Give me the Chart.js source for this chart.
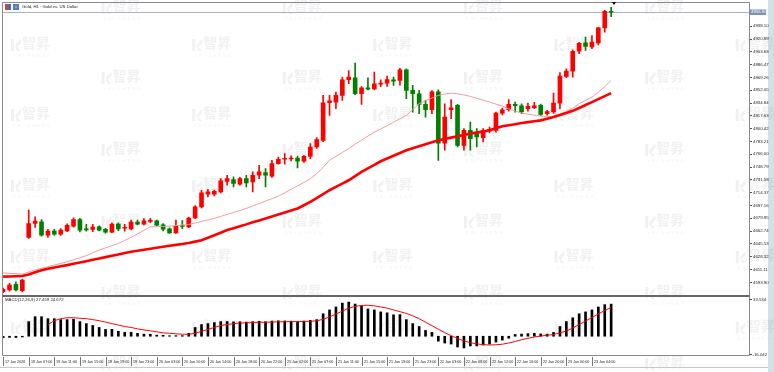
<!DOCTYPE html>
<html><head><meta charset="utf-8">
<script src="https://cdn.jsdelivr.net/npm/chart.js@4.4.1/dist/chart.umd.min.js"></script>
<style>
html,body{margin:0;padding:0;background:#fff;width:774px;height:372px;overflow:hidden}
#main{position:absolute;left:0;top:0}
#macd{position:absolute;left:0;top:296px}
</style></head><body>
<canvas id="main" width="774" height="372"></canvas>
<canvas id="macd" width="774" height="76"></canvas>
<script>
// ---------- DATA ----------
const chartTitle = "Gold, H1 : Gold vs. US Dollar";
const macdTitle = "MACD(12,26,9) 27.459 24.672";
const labelStep = 4;
const timeLabels = ["17 Jan 2026","19 Jan 07:00","19 Jan 11:00","19 Jan 15:00","19 Jan 19:00","19 Jan 23:00",
 "20 Jan 03:00","20 Jan 10:00","20 Jan 14:00","20 Jan 18:00","20 Jan 22:00","21 Jan 02:00","21 Jan 07:00",
 "21 Jan 11:00","21 Jan 15:00","21 Jan 19:00","21 Jan 23:00","22 Jan 03:00","22 Jan 08:00","22 Jan 12:00",
 "22 Jan 16:00","22 Jan 20:00","23 Jan 00:00","23 Jan 04:00"];
const priceTicks = [4593.90,4611.11,4628.32,4645.53,4662.74,4679.95,4697.16,4714.37,4731.58,4748.79,4766.00,
 4783.21,4800.42,4817.63,4834.84,4852.05,4869.26,4886.47,4903.68,4920.89,4938.10];
const macdScaleLabels = [33.534, -16.042];

const open = [4581.3,4583.6,4591.2,4582.6,4654.3,4673.0,4675.2,4657.4,4662.7,4658.7,
 4663.1,4669.4,4678.4,4665.8,4665.0,4668.5,4665.0,4661.4,4672.1,4666.6,
 4665.8,4674.8,4672.1,4675.8,4676.5,4671.2,4665.8,4660.4,4669.6,4668.5,
 4680.6,4695.3,4712.3,4712.3,4715.4,4729.4,4732.1,4725.8,4733.4,4728.8,
 4737.8,4741.4,4736.5,4753.5,4759.3,4759.7,4761.0,4756.6,4763.3,4775.8,
 4784.8,4835.3,4836.2,4845.1,4866.2,4868.9,4847.4,4855.5,4853.8,4860.3,
 4861.6,4866.2,4865.3,4879.6,4851.9,4847.4,4833.1,4826.0,4850.1,4781.1,
 4826.1,4831.7,4778.1,4798.2,4795.9,4788.3,4797.3,4798.2,4821.4,4826.0,
 4833.1,4831.3,4827.4,4828.6,4831.7,4820.6,4822.8,4834.8,4870.6,4877.7,
 4904.5,4915.8,4910.2,4915.8,4935.9,4958.0];
const high = [4586.0,4592.5,4594.7,4598.0,4690.9,4681.9,4678.4,4665.0,4665.0,4666.0,
 4672.5,4680.5,4680.0,4672.0,4672.0,4670.0,4666.5,4674.0,4674.0,4672.0,
 4677.5,4677.5,4679.5,4680.0,4677.5,4673.0,4667.0,4677.5,4677.0,4681.5,
 4697.0,4717.5,4719.0,4718.0,4733.4,4737.8,4735.6,4735.0,4737.8,4742.3,
 4751.2,4746.8,4757.9,4762.4,4766.9,4764.0,4763.5,4764.5,4780.4,4788.4,
 4845.2,4845.2,4849.6,4869.7,4878.7,4888.5,4857.0,4868.9,4876.4,4866.2,
 4871.0,4869.7,4881.5,4881.0,4858.6,4851.9,4838.4,4851.5,4852.8,4834.0,
 4839.4,4833.0,4800.5,4809.3,4800.5,4800.5,4802.6,4822.7,4828.0,4839.4,
 4836.2,4834.0,4834.8,4836.0,4833.5,4825.0,4848.2,4876.0,4881.0,4906.4,
 4916.6,4923.4,4925.6,4936.8,4959.5,4963.6];
const low = [4580.0,4582.0,4582.5,4581.0,4653.0,4667.7,4656.0,4654.3,4657.0,4657.0,
 4662.0,4668.0,4661.8,4662.7,4662.0,4663.0,4660.0,4660.5,4663.5,4662.7,
 4664.5,4671.0,4671.0,4674.0,4670.0,4663.0,4659.5,4659.5,4666.0,4667.5,
 4679.5,4694.0,4708.7,4710.0,4714.0,4724.4,4722.1,4724.5,4722.1,4715.4,
 4733.4,4722.1,4735.0,4752.6,4752.6,4757.0,4747.6,4755.0,4760.2,4774.0,
 4783.0,4818.3,4827.3,4838.4,4860.8,4846.0,4833.0,4852.5,4852.5,4857.0,
 4857.2,4858.6,4859.0,4840.7,4822.7,4820.6,4816.0,4820.6,4757.9,4771.4,
 4814.0,4776.0,4771.4,4771.4,4776.0,4782.5,4794.6,4795.9,4819.0,4824.0,
 4822.7,4820.6,4824.1,4827.3,4818.0,4818.5,4821.0,4827.3,4868.9,4869.7,
 4901.1,4905.5,4908.0,4913.0,4930.0,4951.1];
const close = [4584.5,4590.3,4583.6,4597.0,4673.0,4676.1,4657.4,4662.7,4658.7,4664.0,
 4670.4,4678.4,4664.0,4664.3,4668.1,4664.0,4661.4,4672.1,4665.8,4667.8,
 4674.8,4672.1,4676.5,4677.2,4670.8,4665.4,4660.4,4669.4,4669.0,4680.1,
 4695.3,4714.1,4715.4,4716.3,4730.2,4733.4,4726.7,4733.4,4727.5,4737.8,
 4742.3,4737.8,4753.5,4759.3,4760.6,4761.0,4756.6,4763.3,4775.8,4785.7,
 4835.3,4838.0,4845.1,4866.2,4869.7,4847.4,4855.5,4853.6,4860.8,4861.6,
 4866.6,4864.3,4879.6,4851.9,4847.4,4833.1,4826.0,4850.1,4781.1,4816.0,
 4828.3,4778.1,4798.2,4787.1,4789.2,4798.2,4799.1,4821.4,4825.9,4833.1,
 4831.3,4822.8,4830.4,4831.3,4819.6,4823.3,4834.9,4871.0,4877.7,4904.5,
 4915.2,4910.9,4916.7,4935.9,4958.2,4956.9];
const maFast = [4606.5,4606.0,4605.5,4605.0,4607.8,4610.6,4612.8,4615.0,4617.2,4619.3,
 4621.5,4624.2,4626.8,4629.8,4633.5,4637.2,4640.2,4643.2,4646.2,4650.3,
 4654.3,4659.0,4663.8,4668.5,4668.8,4669.1,4669.4,4670.1,4670.9,4671.7,
 4673.7,4675.8,4677.8,4679.8,4682.5,4685.2,4687.8,4690.5,4693.2,4696.5,
 4699.8,4703.1,4706.4,4709.7,4714.3,4718.9,4723.5,4728.1,4733.0,4740.0,
 4748.5,4758.0,4763.2,4768.5,4773.7,4779.5,4785.0,4790.5,4795.9,4800.0,
 4804.6,4809.2,4813.8,4818.3,4826.0,4834.0,4838.0,4841.8,4845.2,4847.0,
 4848.2,4847.4,4845.8,4843.8,4841.2,4838.7,4836.2,4833.5,4830.8,4827.0,
 4824.2,4821.4,4820.0,4818.6,4817.4,4816.5,4816.0,4819.5,4823.7,4828.0,
 4834.0,4838.5,4842.9,4849.5,4857.0,4865.3];
const maSlow = [4601.5,4601.8,4602.0,4602.3,4604.5,4607.5,4610.0,4612.2,4613.8,4615.5,
 4617.0,4618.8,4620.5,4622.3,4624.2,4626.0,4627.8,4629.6,4631.4,4633.2,
 4634.9,4636.3,4637.7,4639.0,4640.4,4641.7,4643.0,4644.2,4645.3,4646.8,
 4648.6,4650.6,4653.8,4657.2,4660.6,4664.1,4666.6,4669.2,4671.8,4674.5,
 4677.1,4679.8,4682.4,4685.1,4687.8,4690.5,4693.2,4697.5,4702.0,4707.2,
 4712.4,4717.7,4722.2,4726.7,4731.1,4736.7,4742.3,4747.1,4751.9,4756.6,
 4760.3,4764.0,4767.7,4771.4,4774.1,4776.8,4779.4,4782.1,4784.8,4786.6,
 4788.4,4790.2,4792.0,4793.8,4795.3,4796.7,4798.2,4800.9,4803.6,4805.1,
 4806.5,4808.0,4809.2,4810.4,4811.6,4813.8,4816.0,4818.8,4821.6,4824.4,
 4828.3,4832.3,4836.2,4840.2,4844.2,4848.2];
const macdHist = [-1.2,-1.0,-1.1,-0.6,12.5,16.7,16.7,15.0,15.0,14.2,
 14.2,14.6,12.5,10.8,9.2,7.5,5.8,5.9,4.2,3.3,
 3.4,2.5,1.8,1.7,0.9,0.8,0.4,0.5,0.5,2.5,
 7.5,10.0,10.8,11.7,12.5,12.6,12.3,12.4,12.1,12.5,
 12.8,12.4,13.0,13.2,13.1,12.9,12.5,13.0,13.6,14.2,
 19.2,22.5,25.0,28.3,29.2,27.5,25.8,23.3,22.5,20.8,
 20.0,18.3,18.5,14.2,10.8,8.3,5.0,3.3,-4.2,-5.8,
 -6.7,-9.2,-10.0,-8.3,-8.3,-7.5,-6.7,-5.0,-3.3,-1.7,
 1.5,1.8,2.2,2.5,2.0,1.8,3.3,8.3,12.5,15.8,
 19.2,20.8,22.5,25.0,27.0,27.459];
const macdSignal = [null,null,null,null,null,null,null,10.0,13.3,15.0,
 15.8,15.8,15.4,15.0,14.2,13.3,12.1,10.8,9.6,8.3,
 7.5,6.3,5.4,4.6,3.8,2.9,2.5,2.1,1.7,1.7,
 2.5,4.2,5.8,7.5,9.2,10.0,10.8,11.2,11.5,11.7,
 11.9,12.0,12.1,12.3,12.4,12.5,12.5,12.6,12.8,13.2,
 14.5,16.5,19.0,21.5,24.0,25.5,26.3,26.5,26.0,25.0,
 24.0,22.5,21.0,19.5,17.5,15.0,12.0,9.0,6.0,3.0,
 0.5,-2.0,-4.0,-5.5,-6.5,-7.2,-7.5,-7.3,-6.8,-5.8,
 -4.5,-3.0,-1.8,-0.7,0.2,0.8,1.5,2.8,4.5,7.0,
 10.0,13.0,16.0,19.0,22.0,24.672];

// ---------- STYLE ----------
const UP = '#ff0000', DOWN = '#008000';
const FONT = '"Liberation Sans", Arial, sans-serif';
const XMIN = -0.02, XMAX = 116.54;
const cols = close.map((c,i)=> c >= open[i] ? UP : DOWN);

function drawLogo(ctx, x, y){
  ctx.save();
  ctx.fillStyle = 'rgba(120,120,120,0.10)';
  ctx.beginPath();
  ctx.moveTo(x+1, y+2); ctx.lineTo(x+4, y+2); ctx.lineTo(x+4, y+14); ctx.lineTo(x+1, y+14); ctx.closePath(); ctx.fill();
  ctx.beginPath();
  ctx.moveTo(x+5, y+8); ctx.lineTo(x+11, y+2); ctx.lineTo(x+11, y+6); ctx.lineTo(x+7, y+10);
  ctx.lineTo(x+11, y+14); ctx.lineTo(x+7, y+14); ctx.closePath(); ctx.fill();
  ctx.font = 'bold 14px "Noto Sans CJK SC"';
  ctx.textBaseline = 'top';
  ctx.fillText('智昇', x+12, y-1);
  ctx.font = '4px ' + FONT;
  const s = 'ZHISHENG';
  for (let k=0;k<s.length;k++) ctx.fillText(s[k], x+3+k*4.8, y+17);
  ctx.restore();
}

const decor = {
  id: 'decor',
  beforeDraw(chart){
    const ctx = chart.ctx;
    ctx.save();
    ctx.fillStyle = '#fff'; ctx.fillRect(0,0,774,372);
    ctx.fillStyle = '#d3e0e6'; ctx.fillRect(768,0,6,372);
    for (let k=0;k<9;k++){
      const x = 10 + 90.6*k;
      const rows = (k%2===0) ? [37,107,178,249,320] : [0,70,142,214,285,356];
      rows.forEach(r => drawLogo(ctx, x, r));
    }
    ctx.restore();
  },
  beforeDatasetsDraw(chart){
    const ctx = chart.ctx, ys = chart.scales.y, a = chart.chartArea;
    const yb = Math.round(ys.getPixelForValue(close[close.length-1])) + 0.5;
    ctx.save();
    ctx.strokeStyle = '#aab4c4'; ctx.lineWidth = 1;
    ctx.beginPath(); ctx.moveTo(a.left, yb); ctx.lineTo(a.right, yb); ctx.stroke();
    ctx.restore();
  },
  afterDraw(chart){
    const ctx = chart.ctx, xs = chart.scales.x, ys = chart.scales.y;
    ctx.save();
    ctx.strokeStyle = '#8a8a8a'; ctx.lineWidth = 1;
    ctx.beginPath();
    ctx.moveTo(2.5, 2.5); ctx.lineTo(749.5, 2.5);
    ctx.moveTo(2.5, 2.5); ctx.lineTo(2.5, 355.5);
    ctx.moveTo(749.5, 2.5); ctx.lineTo(749.5, 355.5);
    ctx.moveTo(2.5, 355.5); ctx.lineTo(749.5, 355.5);
    ctx.stroke();
    ctx.strokeStyle = '#666'; ctx.lineWidth = 2;
    ctx.beginPath(); ctx.moveTo(2.5, 296); ctx.lineTo(749.5, 296); ctx.stroke();
    ctx.strokeStyle = '#c8c8c8'; ctx.lineWidth = 1;
    ctx.beginPath(); ctx.moveTo(0, 367.5); ctx.lineTo(768, 367.5); ctx.stroke();
    // title & icons
    ctx.fillStyle = '#d04040'; ctx.fillRect(5,4,3,6);
    ctx.fillStyle = '#3a6fc4'; ctx.fillRect(8,4,3,6);
    ctx.fillStyle = '#4d7fd0'; ctx.fillRect(13,4,6,6);
    ctx.fillStyle = '#e08080'; ctx.fillRect(15,6,2,2);
    ctx.fillStyle = '#222'; ctx.font = '4.3px ' + FONT; ctx.textBaseline = 'middle'; ctx.textAlign = 'left';
    ctx.fillText(chartTitle, 22, 7);
    ctx.fillText(macdTitle, 5, 299.5);
    ctx.strokeStyle = '#444'; ctx.beginPath();
    ctx.moveTo(749.5, 299.5); ctx.lineTo(752, 299.5);
    ctx.moveTo(749.5, 354.5); ctx.lineTo(752, 354.5); ctx.stroke();
    ctx.fillText(macdScaleLabels[0].toFixed(3), 753, 299.5);
    ctx.fillText(macdScaleLabels[1].toFixed(3), 752.5, 355);
    // current price label
    const lastC = close[close.length-1];
    const yb = Math.round(ys.getPixelForValue(lastC));
    ctx.fillStyle = '#7d91b4'; ctx.fillRect(750, yb-2.5, 16, 5.5);
    ctx.fillStyle = '#fff'; ctx.fillText(lastC.toFixed(2), 751, yb+0.3);
    // chart shift marker
    ctx.fillStyle = '#000'; ctx.beginPath();
    ctx.moveTo(612, 2); ctx.lineTo(616, 2); ctx.lineTo(614, 5); ctx.closePath(); ctx.fill();
    // time axis
    ctx.fillStyle = '#222'; ctx.strokeStyle = '#777';
    ctx.font = '3.7px ' + FONT;
    timeLabels.forEach((t,k) => {
      const px = Math.round(xs.getPixelForValue(k*labelStep)) + 0.5;
      ctx.beginPath(); ctx.moveTo(px, 357); ctx.lineTo(px, 366); ctx.stroke();
      ctx.fillText(t, px + 1.5, 362);
    });
    ctx.restore();
  }
};

const idx = close.map((_,i)=>i);
new Chart(document.getElementById('main'), {
  type: 'bar',
  data: { datasets: [
    { type:'line', data: maSlow.map((v,i)=>({x:i,y:v})), borderColor:'#ff0000', borderWidth:2.6, pointRadius:0, tension:0, order:0 },
    { type:'line', data: maFast.map((v,i)=>({x:i,y:v})), borderColor:'#f49a9a', borderWidth:1, pointRadius:0, tension:0, order:0 },
    { data: idx.map(i=>({x:i, y:[Math.min(open[i],close[i]), Math.max(open[i],close[i])]})),
      backgroundColor: cols, barThickness:4, minBarLength:1, grouped:false, order:1 },
    { data: idx.map(i=>({x:i, y:[low[i], high[i]]})),
      backgroundColor: cols, barThickness:1, grouped:false, order:2 }
  ]},
  options: {
    responsive:false, animation:false, events:[],
    layout:{ padding:{ left:3, top:3, right:0, bottom:77 } },
    plugins:{ legend:{display:false}, tooltip:{enabled:false} },
    scales:{
      x:{ type:'linear', min:XMIN, max:XMAX, offset:false, display:false },
      y:{ position:'right', min:4576.86, max:4968.6,
          afterFit(s){ s.width = 25; },
          afterBuildTicks(s){ s.ticks = priceTicks.map(v=>({value:v})); },
          grid:{ display:true, drawOnChartArea:false, drawTicks:true, tickLength:3, color:'#555' },
          border:{ display:false },
          ticks:{ padding:1, color:'#222', font:{ size:4.3, family:FONT }, autoSkip:false,
                  callback:(v)=> Number(v).toFixed(2) } }
    }
  },
  plugins:[decor]
});

new Chart(document.getElementById('macd'), {
  type: 'bar',
  data: { datasets: [
    { type:'line', data: macdSignal.map((v,i)=>({x:i,y:v})), borderColor:'#ff0000', borderWidth:1, pointRadius:0, tension:0, spanGaps:false, order:0 },
    { data: macdHist.map((v,i)=>({x:i,y:v})), backgroundColor:'#000', barThickness:2, order:1 }
  ]},
  options: {
    responsive:false, animation:false, events:[],
    layout:{ padding:{ left:3, top:1, right:25, bottom:17 } },
    plugins:{ legend:{display:false}, tooltip:{enabled:false} },
    scales:{
      x:{ type:'linear', min:XMIN, max:XMAX, offset:false, display:false },
      y:{ min:macdScaleLabels[1], max:macdScaleLabels[0], display:false }
    }
  }
});
</script>
</body></html>
